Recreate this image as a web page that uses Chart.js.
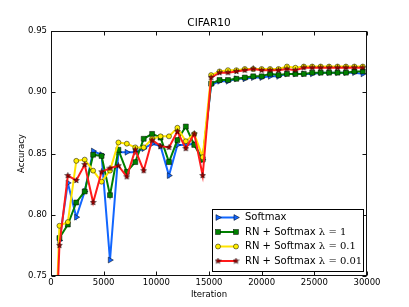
<!DOCTYPE html>
<html>
<head>
<meta charset="utf-8">
<script src="https://cdn.jsdelivr.net/npm/chart.js@4.4.0/dist/chart.umd.min.js"></script>
<style>
  html, body { margin: 0; padding: 0; background: #fff; }
</style>
</head>
<body>
<canvas id="myChart" width="409" height="307"></canvas>
<script>
// iterations (first point = start of training)
const iterations = [0, 800, 1600, 2400, 3200, 4000, 4800, 5600, 6400, 7200,
  8000, 8800, 9600, 10400, 11200, 12000, 12800, 13600, 14400, 15200,
  16000, 16800, 17600, 18400, 19200, 20000, 20800, 21600, 22400, 23200,
  24000, 24800, 25600, 26400, 27200, 28000, 28800, 29600];

const softmax = [null, 0.779, 0.826, 0.798, 0.819, 0.852, 0.849, 0.763, 0.851, 0.851,
  0.851, 0.854, 0.858, 0.856, 0.832, 0.857, 0.857, 0.858, 0.845, 0.906,
  0.909, 0.909, 0.911, 0.911, 0.912, 0.912, 0.913, 0.913, 0.915, 0.915,
  0.915, 0.915, 0.916, 0.916, 0.916, 0.916, 0.916, 0.915];

const rnLambda1 = [null, 0.781, 0.792, 0.810, 0.819, 0.849, 0.848, 0.816, 0.853, 0.835,
  0.843, 0.862, 0.866, 0.863, 0.843, 0.861, 0.872, 0.857, 0.845, 0.907,
  0.910, 0.910, 0.911, 0.912, 0.913, 0.913, 0.915, 0.914, 0.915, 0.915,
  0.915, 0.916, 0.916, 0.916, 0.916, 0.916, 0.917, 0.917];

const rnLambda01 = [0.60, 0.791, 0.794, 0.844, 0.845, 0.836, 0.827, 0.836, 0.859, 0.858,
  0.855, 0.855, 0.862, 0.864, 0.864, 0.871, 0.860, 0.866, 0.847, 0.914,
  0.917, 0.918, 0.918, 0.919, 0.919, 0.919, 0.919, 0.919, 0.921, 0.920,
  0.921, 0.921, 0.921, 0.921, 0.921, 0.921, 0.921, 0.921];

const rnLambda001 = [0.60, 0.775, 0.832, 0.828, 0.841, 0.810, 0.835, 0.838, 0.840, 0.831,
  0.853, 0.836, 0.861, 0.856, 0.855, 0.868, 0.854, 0.866, 0.832, 0.912,
  0.916, 0.916, 0.917, 0.918, 0.919, 0.918, 0.918, 0.918, 0.919, 0.918,
  0.920, 0.920, 0.920, 0.920, 0.920, 0.920, 0.920, 0.920];

const xTicks = [0, 5000, 10000, 15000, 20000, 25000, 30000];
const yTicks = [0.75, 0.80, 0.85, 0.90, 0.95];

function toPoints(arr) {
  return iterations.map((x, i) => ({ x: x, y: arr[i] }));
}

// small filled star like matplotlib '*'
function makeStar(size, fill) {
  const c = document.createElement('canvas');
  c.width = c.height = size;
  const g = c.getContext('2d');
  const cx = size / 2, cy = size / 2, R = size / 2 - 0.5, r = R * 0.45;
  g.beginPath();
  for (let i = 0; i < 10; i++) {
    const a = -Math.PI / 2 + i * Math.PI / 5;
    const rad = i % 2 ? r : R;
    g.lineTo(cx + rad * Math.cos(a), cy + rad * Math.sin(a));
  }
  g.closePath();
  g.fillStyle = fill;
  g.fill();
  g.lineWidth = 0.5;
  g.strokeStyle = '#000';
  g.stroke();
  return c;
}
const starImg = makeStar(7, '#a00000');

const series = [
  { label: 'Softmax', lam: '', data: softmax, color: '#1166ff', face: '#1166ff', style: 'triangle', rot: 90, r: 3.4 },
  { label: 'RN + Softmax ', lam: 'λ = 1', data: rnLambda1, color: '#008000', face: '#008000', style: 'rect', rot: 0, r: 3.5 },
  { label: 'RN + Softmax ', lam: 'λ = 0.1', data: rnLambda01, color: '#ffe400', face: '#ffee00', style: 'circle', rot: 0, r: 2.5 },
  { label: 'RN + Softmax ', lam: 'λ = 0.01', data: rnLambda001, color: '#ff1a1a', face: '#a00000', style: starImg, rot: 0, r: 3.5 }
];

function drawMarker(ctx, s, x, y) {
  ctx.save();
  ctx.fillStyle = s.face;
  ctx.strokeStyle = '#000';
  ctx.lineWidth = 0.5;
  if (s.style === 'triangle') {
    ctx.beginPath();
    ctx.moveTo(x + s.r, y);
    ctx.lineTo(x - s.r * 0.6, y - s.r * 0.85);
    ctx.lineTo(x - s.r * 0.6, y + s.r * 0.85);
    ctx.closePath(); ctx.fill(); ctx.stroke();
  } else if (s.style === 'rect') {
    const h = s.r * Math.SQRT1_2;
    ctx.fillRect(x - h, y - h, 2 * h, 2 * h);
    ctx.strokeRect(x - h, y - h, 2 * h, 2 * h);
  } else if (s.style === 'circle') {
    ctx.beginPath(); ctx.arc(x, y, s.r, 0, Math.PI * 2); ctx.fill(); ctx.stroke();
  } else {
    ctx.drawImage(s.style, x - s.style.width / 2, y - s.style.height / 2);
  }
  ctx.restore();
}

// frame, inward ticks on all four sides, title and legend
const decorations = {
  id: 'decorations',
  afterDraw(chart) {
    const { ctx, chartArea: a, scales: { x, y } } = chart;
    const L = Math.round(a.left) + 0.5, R = Math.round(a.right) - 0.5;
    const T = Math.round(a.top) + 0.5, B = Math.round(a.bottom) - 0.5;
    ctx.save();
    ctx.strokeStyle = '#111';
    ctx.lineWidth = 1;
    ctx.strokeRect(L, T, R - L, B - T);
    ctx.beginPath();
    xTicks.forEach(v => {
      const px = Math.round(x.getPixelForValue(v)) + 0.5;
      ctx.moveTo(px, B); ctx.lineTo(px, B - 4);
      ctx.moveTo(px, T); ctx.lineTo(px, T + 4);
    });
    yTicks.forEach(v => {
      const py = Math.round(y.getPixelForValue(v)) + 0.5;
      ctx.moveTo(L, py); ctx.lineTo(L + 4, py);
      ctx.moveTo(R, py); ctx.lineTo(R - 4, py);
    });
    ctx.stroke();

    // title
    ctx.fillStyle = '#000';
    ctx.font = '10.5px "DejaVu Sans"';
    ctx.textAlign = 'center';
    ctx.textBaseline = 'middle';
    ctx.fillText('CIFAR10', (a.left + a.right) / 2, 23);

    // legend box
    const bx = 212.5, by = 209.5, bw = 151, bh = 62;
    ctx.fillStyle = '#fff';
    ctx.fillRect(bx, by, bw, bh);
    ctx.strokeStyle = '#000';
    ctx.strokeRect(bx, by, bw, bh);
    ctx.textAlign = 'left';
    series.forEach((s, i) => {
      const ry = 217.5 + i * 14.5;
      ctx.strokeStyle = s.color;
      ctx.lineWidth = 2;
      ctx.beginPath(); ctx.moveTo(218, ry); ctx.lineTo(236, ry); ctx.stroke();
      drawMarker(ctx, s, 218, ry);
      drawMarker(ctx, s, 236, ry);
      ctx.fillStyle = '#000';
      ctx.font = '10px "DejaVu Sans"';
      ctx.fillText(s.label, 245, ry);
      if (s.lam) {
        const w = ctx.measureText(s.label).width;
        ctx.font = '10px "DejaVu Serif"';
        ctx.fillText(s.lam, 245 + w, ry);
      }
    });
    ctx.restore();
  }
};

new Chart(document.getElementById('myChart'), {
  type: 'line',
  data: {
    datasets: series.map((s, i) => ({
      label: s.label + s.lam,
      data: toPoints(s.data),
      borderColor: s.color,
      backgroundColor: s.face,
      borderWidth: 2,
      pointStyle: s.style,
      rotation: s.rot,
      pointRadius: s.r,
      pointBackgroundColor: s.face,
      pointBorderColor: '#000',
      pointBorderWidth: 0.5,
      fill: false,
      tension: 0,
      order: series.length - i
    }))
  },
  options: {
    responsive: false,
    animation: false,
    layout: { padding: { top: 31, right: 42, left: 0, bottom: 0 } },
    plugins: {
      legend: { display: false },
      tooltip: { enabled: false }
    },
    scales: {
      x: {
        type: 'linear',
        min: 0,
        max: 30000,
        afterFit: s => { s.height = 31; },
        afterBuildTicks: s => { s.ticks = xTicks.map(v => ({ value: v })); },
        grid: { display: false, drawTicks: false },
        border: { display: false },
        ticks: {
          color: '#000',
          padding: 2,
          maxRotation: 0,
          font: { family: 'DejaVu Sans', size: 8.5 },
          callback: v => String(v)
        },
        title: {
          display: true,
          text: 'Iteration',
          color: '#000',
          padding: { top: 0, bottom: 7.6 },
          font: { family: 'DejaVu Sans', size: 8.5 }
        }
      },
      y: {
        min: 0.75,
        max: 0.95,
        afterFit: s => { s.width = 51; },
        afterBuildTicks: s => { s.ticks = yTicks.map(v => ({ value: v })); },
        grid: { display: false, drawTicks: false },
        border: { display: false },
        ticks: {
          color: '#000',
          padding: 4,
          font: { family: 'DejaVu Sans', size: 8.5 },
          callback: v => v.toFixed(2)
        },
        title: {
          display: true,
          text: 'Accuracy',
          color: '#000',
          padding: { top: 16.6, bottom: 0 },
          font: { family: 'DejaVu Sans', size: 8.5 }
        }
      }
    }
  },
  plugins: [decorations]
});
</script>
</body>
</html>
